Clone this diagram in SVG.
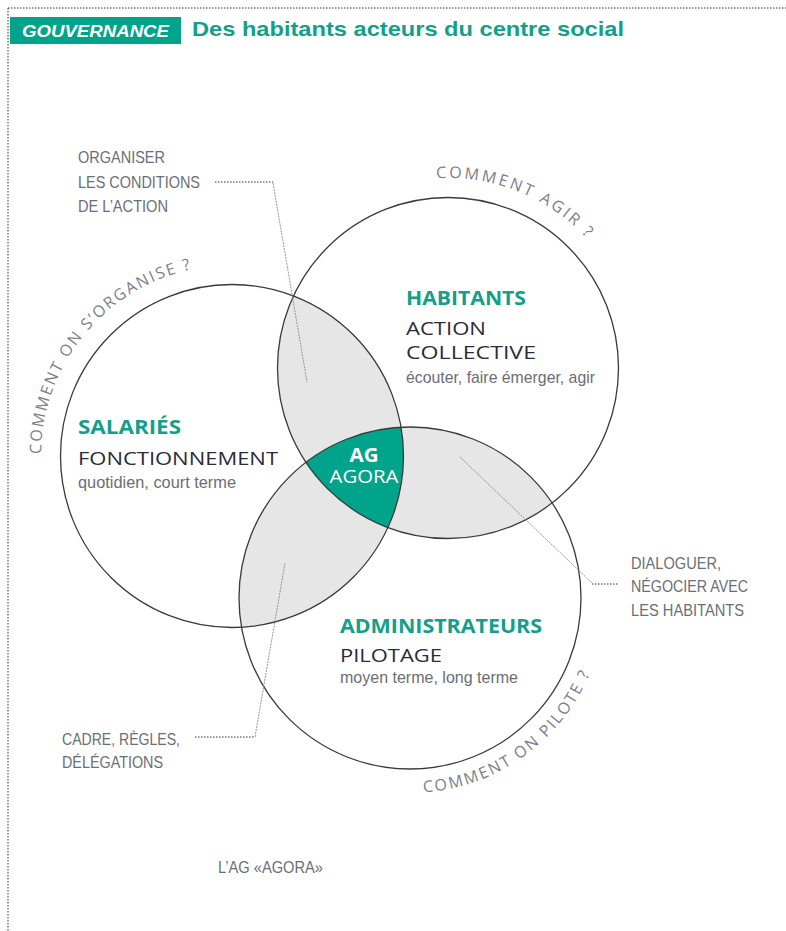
<svg xmlns="http://www.w3.org/2000/svg" width="786" height="931" viewBox="0 0 786 931">
<style>
.head{font-family:"Open Sans","Noto Sans",sans-serif;font-weight:700;fill:#12a08a;font-size:19px}
.main{font-family:"Open Sans","Noto Sans",sans-serif;fill:#2b2b3b;font-size:19px}
.sub{font-family:"Liberation Sans Narrow","Liberation Sans",sans-serif;fill:#6b6e76;font-size:17px}
.lab{font-family:"Liberation Sans Narrow","Liberation Sans",sans-serif;fill:#6b6e76;font-size:17px}
.arc{font-family:"Open Sans","Noto Sans",sans-serif;fill:#7b8089;font-size:16px}
.circ{fill:none;stroke:#3a3a3a;stroke-width:1.3}
.lens{fill:#e6e6e6}
.dot{fill:none;stroke:#333;stroke-width:1;stroke-dasharray:1.5 1.5}
.lead{fill:none;stroke:#8a8a8a;stroke-width:0.9;stroke-dasharray:2 1}
</style>
<defs>
<clipPath id="cH"><circle cx="448" cy="368" r="170.5"/></clipPath>
<clipPath id="cS"><circle cx="232" cy="456" r="171.5"/></clipPath>
<clipPath id="cA"><circle cx="410" cy="598" r="171"/></clipPath>
<path id="pAgir" d="M436.4,178.35 A190,190 0 0 1 589.2,240.9"/>
<path id="pOrg" d="M41,454.3 A191,191 0 0 1 197.2,268.2"/>
<path id="pPil" d="M423.6,792.5 A195,195 0 0 0 590.8,671.05"/>
</defs>
<rect width="786" height="931" fill="#fff"/>
<g id="border">
<path class="dot" d="M8,8 H786 M8,8 V931"/>
</g>
<g id="header">
<rect x="10" y="17" width="171" height="27" fill="#00a48b"/>
<text x="22" y="37" font-family="Liberation Sans,sans-serif" font-weight="700" font-style="italic" font-size="16" fill="#fff" textLength="147" lengthAdjust="spacingAndGlyphs">GOUVERNANCE</text>
<text x="192" y="36" font-family="Liberation Sans,sans-serif" font-weight="700" font-size="21" fill="#12a08a" textLength="432" lengthAdjust="spacingAndGlyphs">Des habitants acteurs du centre social</text>
</g>
<g id="overlaps">
<g clip-path="url(#cH)"><circle class="lens" cx="232" cy="456" r="171.5"/><circle class="lens" cx="410" cy="598" r="171"/></g>
<g clip-path="url(#cS)"><circle class="lens" cx="410" cy="598" r="171"/></g>
<g id="agora" clip-path="url(#cH)"><g clip-path="url(#cS)"><circle cx="410" cy="598" r="171" fill="#00a48b"/></g></g>
</g>
<g id="circles">
<circle id="habitants-circle" class="circ" cx="448" cy="368" r="170.5"/>
<circle id="salaries-circle" class="circ" cx="232" cy="456" r="171.5"/>
<circle id="admin-circle" class="circ" cx="410" cy="598" r="171"/>
</g>
<g id="connectors">
<path class="dot" d="M215,182 H273"/>
<path class="lead" d="M273,183 L307,382"/>
<path class="lead" d="M460,457 L592,583"/>
<path class="dot" d="M592,584 H618"/>
<path class="dot" d="M195,737 H255"/>
<path class="lead" d="M255,737 L285,563"/>
</g>
<g id="node-habitants">
<text class="arc" letter-spacing="2.6"><textPath href="#pAgir">COMMENT AGIR ?</textPath></text>
<text class="head" x="406" y="305" textLength="120" lengthAdjust="spacingAndGlyphs">HABITANTS</text>
<text class="main" x="406" y="335" textLength="80" lengthAdjust="spacingAndGlyphs">ACTION</text>
<text class="main" x="406" y="359" textLength="130" lengthAdjust="spacingAndGlyphs">COLLECTIVE</text>
<text class="sub" x="406" y="383" textLength="189" lengthAdjust="spacingAndGlyphs">écouter, faire émerger, agir</text>
</g>
<g id="node-salaries">
<text class="arc" letter-spacing="1.9"><textPath href="#pOrg">COMMENT ON S’ORGANISE ?</textPath></text>
<text class="head" x="78" y="434" textLength="103" lengthAdjust="spacingAndGlyphs">SALARIÉS</text>
<text class="main" x="78" y="465" textLength="200" lengthAdjust="spacingAndGlyphs">FONCTIONNEMENT</text>
<text class="sub" x="78" y="488" textLength="158" lengthAdjust="spacingAndGlyphs">quotidien, court terme</text>
</g>
<g id="node-administrateurs">
<text class="arc" letter-spacing="2.05"><textPath href="#pPil">COMMENT ON PILOTE ?</textPath></text>
<text class="head" x="340" y="633" textLength="202" lengthAdjust="spacingAndGlyphs">ADMINISTRATEURS</text>
<text class="main" x="340" y="662" textLength="102" lengthAdjust="spacingAndGlyphs">PILOTAGE</text>
<text class="sub" x="340" y="683" textLength="178" lengthAdjust="spacingAndGlyphs">moyen terme, long terme</text>
</g>
<g id="node-ag">
<text x="364" y="462" text-anchor="middle" font-family="Open Sans,Noto Sans,sans-serif" font-weight="700" font-size="19" fill="#fff" textLength="29" lengthAdjust="spacingAndGlyphs">AG</text>
<text x="364" y="483" text-anchor="middle" font-family="Open Sans,Noto Sans,sans-serif" font-size="18" fill="#fff" textLength="69" lengthAdjust="spacingAndGlyphs">AGORA</text>
</g>
<g id="label-organiser">
<text class="lab" x="78" y="163" textLength="87" lengthAdjust="spacingAndGlyphs">ORGANISER</text>
<text class="lab" x="78" y="188" textLength="122" lengthAdjust="spacingAndGlyphs">LES CONDITIONS</text>
<text class="lab" x="78" y="212" textLength="90" lengthAdjust="spacingAndGlyphs">DE L’ACTION</text>
</g>
<g id="label-dialoguer">
<text class="lab" x="631" y="569" textLength="90" lengthAdjust="spacingAndGlyphs">DIALOGUER,</text>
<text class="lab" x="631" y="592" textLength="117" lengthAdjust="spacingAndGlyphs">NÉGOCIER AVEC</text>
<text class="lab" x="631" y="616" textLength="113" lengthAdjust="spacingAndGlyphs">LES HABITANTS</text>
</g>
<g id="label-cadre">
<text class="lab" x="62" y="745" textLength="118" lengthAdjust="spacingAndGlyphs">CADRE, RÈGLES,</text>
<text class="lab" x="62" y="768" textLength="101" lengthAdjust="spacingAndGlyphs">DÉLÉGATIONS</text>
</g>
<g id="caption">
<text class="lab" x="218" y="873" textLength="105" lengthAdjust="spacingAndGlyphs">L’AG «AGORA»</text>
</g>
</svg>
